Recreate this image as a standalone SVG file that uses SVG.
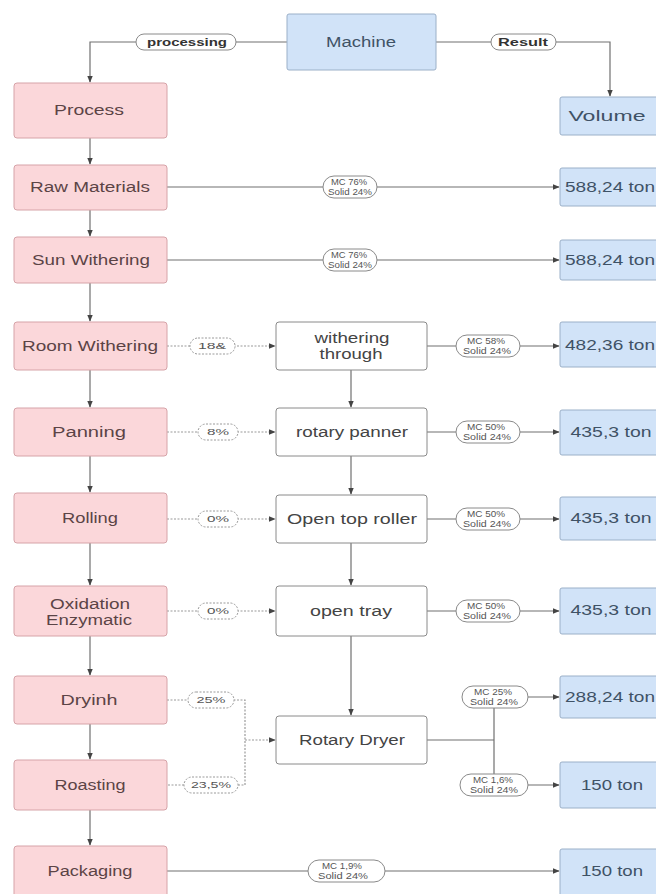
<svg xmlns="http://www.w3.org/2000/svg" width="656" height="894" viewBox="0 0 656 894">
<style>
.pk{fill:#fbd7da;stroke:#d6a3a8;stroke-width:1}
.bl{fill:#d1e3f8;stroke:#9bb0c8;stroke-width:1}
.wh{fill:#fff;stroke:#8a8a8a;stroke-width:1}
.t{font-family:"Liberation Sans",Arial,sans-serif;font-size:14px;text-anchor:middle;dominant-baseline:central}
.tp{fill:#5b4446}
.tb{fill:#3f5266}
.tw{fill:#444}
.pill{fill:#fff;stroke:#8a8a8a;stroke-width:1}
.pilld{fill:#fff;stroke:#9a9a9a;stroke-width:1;stroke-dasharray:2,1.5}
.pt{font-family:"Liberation Sans",Arial,sans-serif;font-size:8.5px;fill:#555;text-anchor:middle;dominant-baseline:central}
.pb{font-family:"Liberation Sans",Arial,sans-serif;font-size:10px;font-weight:bold;fill:#333;text-anchor:middle;dominant-baseline:central}
.ln{fill:none;stroke:#707070;stroke-width:1.2}
.ld{fill:none;stroke:#9a9a9a;stroke-width:1.2;stroke-dasharray:2,1.5}
</style>
<defs>
<marker id="ar" viewBox="0 0 10 10" refX="9" refY="5" markerWidth="7" markerHeight="7" orient="auto" markerUnits="userSpaceOnUse">
<path d="M0,1 L10,5 L0,9 Z" fill="#444"/>
</marker>
</defs>
<rect width="656" height="894" fill="#fff"/>

<g id="connectors">
<path class="ln" d="M287,42 H90 V82" marker-end="url(#ar)"/>
<path class="ln" d="M436,42 H610 V96" marker-end="url(#ar)"/>
<path class="ln" d="M167,187 H559" marker-end="url(#ar)"/>
<path class="ln" d="M167,260 H559" marker-end="url(#ar)"/>
<path class="ln" d="M90,138 V164" marker-end="url(#ar)"/>
<path class="ln" d="M90,210 V236" marker-end="url(#ar)"/>
<path class="ln" d="M90,283 V321" marker-end="url(#ar)"/>
<path class="ln" d="M90,370 V407" marker-end="url(#ar)"/>
<path class="ln" d="M90,456 V492" marker-end="url(#ar)"/>
<path class="ln" d="M90,543 V585" marker-end="url(#ar)"/>
<path class="ln" d="M90,636 V675" marker-end="url(#ar)"/>
<path class="ln" d="M90,724 V759" marker-end="url(#ar)"/>
<path class="ln" d="M90,810 V845" marker-end="url(#ar)"/>
<path class="ld" d="M167,346 H275" marker-end="url(#ar)"/>
<path class="ld" d="M167,432 H275" marker-end="url(#ar)"/>
<path class="ld" d="M167,519 H275" marker-end="url(#ar)"/>
<path class="ld" d="M167,611 H275" marker-end="url(#ar)"/>
<path class="ld" d="M167,700 H245 V785 H167"/>
<path class="ld" d="M245,740 H275" marker-end="url(#ar)"/>
<path class="ln" d="M351,370 V407" marker-end="url(#ar)"/>
<path class="ln" d="M351,456 V494" marker-end="url(#ar)"/>
<path class="ln" d="M351,543 V585" marker-end="url(#ar)"/>
<path class="ln" d="M351,636 V715" marker-end="url(#ar)"/>
<path class="ln" d="M427,346 H559" marker-end="url(#ar)"/>
<path class="ln" d="M427,432 H559" marker-end="url(#ar)"/>
<path class="ln" d="M427,519 H559" marker-end="url(#ar)"/>
<path class="ln" d="M427,611 H559" marker-end="url(#ar)"/>
<path class="ln" d="M427,740 H494"/>
<path class="ln" d="M494,697 V785"/>
<path class="ln" d="M494,697 H559" marker-end="url(#ar)"/>
<path class="ln" d="M494,785 H559" marker-end="url(#ar)"/>
<path class="ln" d="M167,871 H559" marker-end="url(#ar)"/>
</g>

<g id="labels">
<rect class="pill" x="136" y="34" width="100" height="16" rx="8"/><text class="pb" x="187" y="42" textLength="80" lengthAdjust="spacingAndGlyphs">processing</text>
<rect class="pill" x="491" y="34" width="65" height="16" rx="8"/><text class="pb" x="523" y="42" textLength="50" lengthAdjust="spacingAndGlyphs">Result</text>
<g id="lbl-raw"><rect class="pill" x="323" y="176" width="54" height="22" rx="11"/><text class="pt" x="349" y="182" textLength="36" lengthAdjust="spacingAndGlyphs">MC 76%</text><text class="pt" x="350" y="192" textLength="44" lengthAdjust="spacingAndGlyphs">Solid 24%</text></g>
<g id="lbl-sun"><rect class="pill" x="323" y="249" width="54" height="22" rx="11"/><text class="pt" x="349" y="255" textLength="36" lengthAdjust="spacingAndGlyphs">MC 76%</text><text class="pt" x="350" y="265" textLength="44" lengthAdjust="spacingAndGlyphs">Solid 24%</text></g>
<g id="lbl-18"><rect class="pilld" x="190" y="338" width="45" height="16" rx="8"/><text class="pt" x="212" y="346" textLength="28" lengthAdjust="spacingAndGlyphs">18&amp;</text></g>
<g id="lbl-8"><rect class="pilld" x="198" y="424" width="40" height="16" rx="8"/><text class="pt" x="218" y="432" textLength="22" lengthAdjust="spacingAndGlyphs">8%</text></g>
<g id="lbl-0a"><rect class="pilld" x="198" y="511" width="40" height="16" rx="8"/><text class="pt" x="218" y="519" textLength="22" lengthAdjust="spacingAndGlyphs">0%</text></g>
<g id="lbl-0b"><rect class="pilld" x="198" y="603" width="40" height="16" rx="8"/><text class="pt" x="218" y="611" textLength="22" lengthAdjust="spacingAndGlyphs">0%</text></g>
<g id="lbl-25"><rect class="pilld" x="188" y="692" width="46" height="16" rx="8"/><text class="pt" x="211" y="700" textLength="29" lengthAdjust="spacingAndGlyphs">25%</text></g>
<g id="lbl-235"><rect class="pilld" x="184" y="777" width="54" height="16" rx="8"/><text class="pt" x="211" y="785" textLength="40" lengthAdjust="spacingAndGlyphs">23,5%</text></g>
<g id="lbl-58"><rect class="pill" x="456" y="335" width="64" height="22" rx="11"/><text class="pt" x="486" y="341" textLength="38" lengthAdjust="spacingAndGlyphs">MC 58%</text><text class="pt" x="487" y="351" textLength="48" lengthAdjust="spacingAndGlyphs">Solid 24%</text></g>
<g id="lbl-50a"><rect class="pill" x="456" y="421" width="64" height="22" rx="11"/><text class="pt" x="486" y="427" textLength="38" lengthAdjust="spacingAndGlyphs">MC 50%</text><text class="pt" x="487" y="437" textLength="48" lengthAdjust="spacingAndGlyphs">Solid 24%</text></g>
<g id="lbl-50b"><rect class="pill" x="456" y="508" width="64" height="22" rx="11"/><text class="pt" x="486" y="514" textLength="38" lengthAdjust="spacingAndGlyphs">MC 50%</text><text class="pt" x="487" y="524" textLength="48" lengthAdjust="spacingAndGlyphs">Solid 24%</text></g>
<g id="lbl-50c"><rect class="pill" x="456" y="600" width="64" height="22" rx="11"/><text class="pt" x="486" y="606" textLength="38" lengthAdjust="spacingAndGlyphs">MC 50%</text><text class="pt" x="487" y="616" textLength="48" lengthAdjust="spacingAndGlyphs">Solid 24%</text></g>
<g id="lbl-25b"><rect class="pill" x="462" y="686" width="66" height="22" rx="11"/><text class="pt" x="493" y="692" textLength="38" lengthAdjust="spacingAndGlyphs">MC 25%</text><text class="pt" x="494" y="702" textLength="48" lengthAdjust="spacingAndGlyphs">Solid 24%</text></g>
<g id="lbl-16"><rect class="pill" x="460" y="774" width="68" height="22" rx="11"/><text class="pt" x="493" y="780" textLength="40" lengthAdjust="spacingAndGlyphs">MC 1,6%</text><text class="pt" x="494" y="790" textLength="48" lengthAdjust="spacingAndGlyphs">Solid 24%</text></g>
<g id="lbl-19"><rect class="pill" x="308" y="860" width="77" height="22" rx="11"/><text class="pt" x="342" y="866" textLength="40" lengthAdjust="spacingAndGlyphs">MC 1,9%</text><text class="pt" x="343" y="876" textLength="50" lengthAdjust="spacingAndGlyphs">Solid 24%</text></g>
</g>

<g id="machine"><rect class="bl" x="287" y="14" width="149" height="56" rx="2"/><text class="t tb" x="361" y="42" textLength="70" lengthAdjust="spacingAndGlyphs">Machine</text></g>
<g id="process"><rect class="pk" x="14" y="83" width="153" height="55" rx="3"/><text class="t tp" x="89" y="110" textLength="70" lengthAdjust="spacingAndGlyphs">Process</text></g>
<g id="volume"><rect class="bl" x="560" y="97" width="110" height="38" rx="2"/><text class="t tb" x="607" y="116" textLength="77" lengthAdjust="spacingAndGlyphs">Volume</text></g>

<g id="raw"><rect class="pk" x="14" y="165" width="153" height="45" rx="3"/><text class="t tp" x="90" y="187" textLength="120" lengthAdjust="spacingAndGlyphs">Raw Materials</text></g>
<g id="sun"><rect class="pk" x="14" y="237" width="153" height="46" rx="3"/><text class="t tp" x="91" y="260" textLength="118" lengthAdjust="spacingAndGlyphs">Sun Withering</text></g>
<g id="room"><rect class="pk" x="14" y="322" width="153" height="48" rx="3"/><text class="t tp" x="90" y="346" textLength="136" lengthAdjust="spacingAndGlyphs">Room Withering</text></g>
<g id="panning"><rect class="pk" x="14" y="408" width="153" height="48" rx="3"/><text class="t tp" x="89" y="432" textLength="74" lengthAdjust="spacingAndGlyphs">Panning</text></g>
<g id="rolling"><rect class="pk" x="14" y="493" width="153" height="50" rx="3"/><text class="t tp" x="90" y="518" textLength="56" lengthAdjust="spacingAndGlyphs">Rolling</text></g>
<g id="oxidation"><rect class="pk" x="14" y="586" width="153" height="50" rx="3"/><text class="t tp" x="90" y="604" textLength="80" lengthAdjust="spacingAndGlyphs">Oxidation</text><text class="t tp" x="89" y="620" textLength="86" lengthAdjust="spacingAndGlyphs">Enzymatic</text></g>
<g id="drying"><rect class="pk" x="14" y="676" width="153" height="48" rx="3"/><text class="t tp" x="89" y="700" textLength="57" lengthAdjust="spacingAndGlyphs">Dryinh</text></g>
<g id="roasting"><rect class="pk" x="14" y="760" width="153" height="50" rx="3"/><text class="t tp" x="90" y="785" textLength="71" lengthAdjust="spacingAndGlyphs">Roasting</text></g>
<g id="packaging"><rect class="pk" x="14" y="846" width="153" height="52" rx="3"/><text class="t tp" x="90" y="871" textLength="85" lengthAdjust="spacingAndGlyphs">Packaging</text></g>

<g id="m-withering"><rect class="wh" x="276" y="322" width="151" height="48" rx="3"/><text class="t tw" x="352" y="338" textLength="75" lengthAdjust="spacingAndGlyphs">withering</text><text class="t tw" x="351" y="354" textLength="63" lengthAdjust="spacingAndGlyphs">through</text></g>
<g id="m-panner"><rect class="wh" x="276" y="408" width="151" height="48" rx="3"/><text class="t tw" x="352" y="432" textLength="112" lengthAdjust="spacingAndGlyphs">rotary panner</text></g>
<g id="m-roller"><rect class="wh" x="276" y="495" width="151" height="48" rx="3"/><text class="t tw" x="352" y="519" textLength="130" lengthAdjust="spacingAndGlyphs">Open top roller</text></g>
<g id="m-tray"><rect class="wh" x="276" y="586" width="151" height="50" rx="3"/><text class="t tw" x="351" y="611" textLength="82" lengthAdjust="spacingAndGlyphs">open tray</text></g>
<g id="m-dryer"><rect class="wh" x="276" y="716" width="151" height="48" rx="3"/><text class="t tw" x="352" y="740" textLength="106" lengthAdjust="spacingAndGlyphs">Rotary Dryer</text></g>

<g id="v1"><rect class="bl" x="560" y="168" width="110" height="38" rx="2"/><text class="t tb" x="610" y="187" textLength="90" lengthAdjust="spacingAndGlyphs">588,24 ton</text></g>
<g id="v2"><rect class="bl" x="560" y="240" width="110" height="40" rx="2"/><text class="t tb" x="610" y="260" textLength="90" lengthAdjust="spacingAndGlyphs">588,24 ton</text></g>
<g id="v3"><rect class="bl" x="560" y="322" width="110" height="45" rx="2"/><text class="t tb" x="610" y="345" textLength="90" lengthAdjust="spacingAndGlyphs">482,36 ton</text></g>
<g id="v4"><rect class="bl" x="560" y="410" width="110" height="45" rx="2"/><text class="t tb" x="611" y="432" textLength="81" lengthAdjust="spacingAndGlyphs">435,3 ton</text></g>
<g id="v5"><rect class="bl" x="560" y="497" width="110" height="43" rx="2"/><text class="t tb" x="611" y="518" textLength="81" lengthAdjust="spacingAndGlyphs">435,3 ton</text></g>
<g id="v6"><rect class="bl" x="560" y="588" width="110" height="46" rx="2"/><text class="t tb" x="611" y="610" textLength="81" lengthAdjust="spacingAndGlyphs">435,3 ton</text></g>
<g id="v7"><rect class="bl" x="560" y="676" width="110" height="42" rx="2"/><text class="t tb" x="610" y="697" textLength="90" lengthAdjust="spacingAndGlyphs">288,24 ton</text></g>
<g id="v8"><rect class="bl" x="560" y="762" width="110" height="46" rx="2"/><text class="t tb" x="612" y="785" textLength="62" lengthAdjust="spacingAndGlyphs">150 ton</text></g>
<g id="v9"><rect class="bl" x="560" y="849" width="110" height="49" rx="2"/><text class="t tb" x="612" y="871" textLength="62" lengthAdjust="spacingAndGlyphs">150 ton</text></g>
</svg>
